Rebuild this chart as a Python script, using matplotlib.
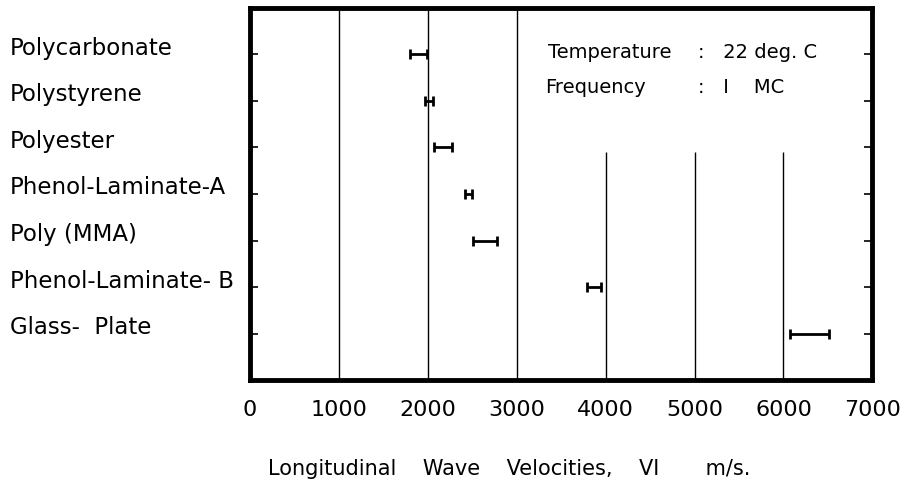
import numpy as np
import matplotlib.pyplot as plt

# materials, top to bottom
materials = ['Polycarbonate', 'Polystyrene', 'Polyester', 'Phenol-Laminate-A',
             'Poly (MMA)', 'Phenol-Laminate- B', 'Glass-  Plate']
# velocity ranges (m/s)
v_low = [1800, 1970, 2070, 2420, 2510, 3790, 6070]
v_high = [1990, 2060, 2270, 2500, 2780, 3945, 6510]

x_ticks = [0, 1000, 2000, 3000, 4000, 5000, 6000, 7000]
full_grid = [1000, 2000, 3000]
short_grid = [4000, 5000, 6000]

plt.rcParams['font.family'] = ['DejaVu Sans']

fig = plt.figure(figsize=(9.05, 4.93), dpi=100)
ax = fig.add_axes([0.276, 0.229, 0.688, 0.755])

n = len(materials)
y_pos = np.arange(n, 0, -1)
lo = np.array(v_low)
hi = np.array(v_high)
mid = (lo + hi) / 2
half = (hi - lo) / 2

ax.vlines(full_grid, 0, n + 1, color='black', linewidth=1.0)
ax.vlines(short_grid, 0, 4.9, color='black', linewidth=1.0)

ax.errorbar(mid, y_pos, xerr=half, fmt='none', ecolor='black',
            elinewidth=2.0, capsize=3.5, capthick=2.0)

ax.set_xlim(0, 7000)
ax.set_ylim(0, n + 1)
ax.set_xticks(x_ticks)
ax.set_xticklabels([str(t) for t in x_ticks], fontsize=16)
ax.set_yticks(y_pos)
ax.set_yticklabels([])
ax.tick_params(axis='x', direction='in', length=0, pad=14)
ax.tick_params(axis='y', direction='in', length=6, width=1.2, left=True, right=True)
for s in ax.spines.values():
    s.set_linewidth(3.5)

# material names at left
for name, y in zip(materials, y_pos):
    ax.text(-0.385, y + 0.13, name, transform=ax.get_yaxis_transform(),
            ha='left', va='center', fontsize=16.5)

ax.text(3350, 7.05, 'Temperature', fontsize=14, va='center')
ax.text(5040, 7.05, ':   22 deg. C', fontsize=14, va='center')
ax.text(3320, 6.28, 'Frequency', fontsize=14, va='center')
ax.text(5040, 6.28, ':   I    MC', fontsize=14, va='center')

ax.set_xlabel('Longitudinal    Wave    Velocities,    VI       m/s.',
              fontsize=15)
ax.xaxis.set_label_coords(0.417, -0.213)

fig.savefig('out.png', dpi=100, facecolor='white')
